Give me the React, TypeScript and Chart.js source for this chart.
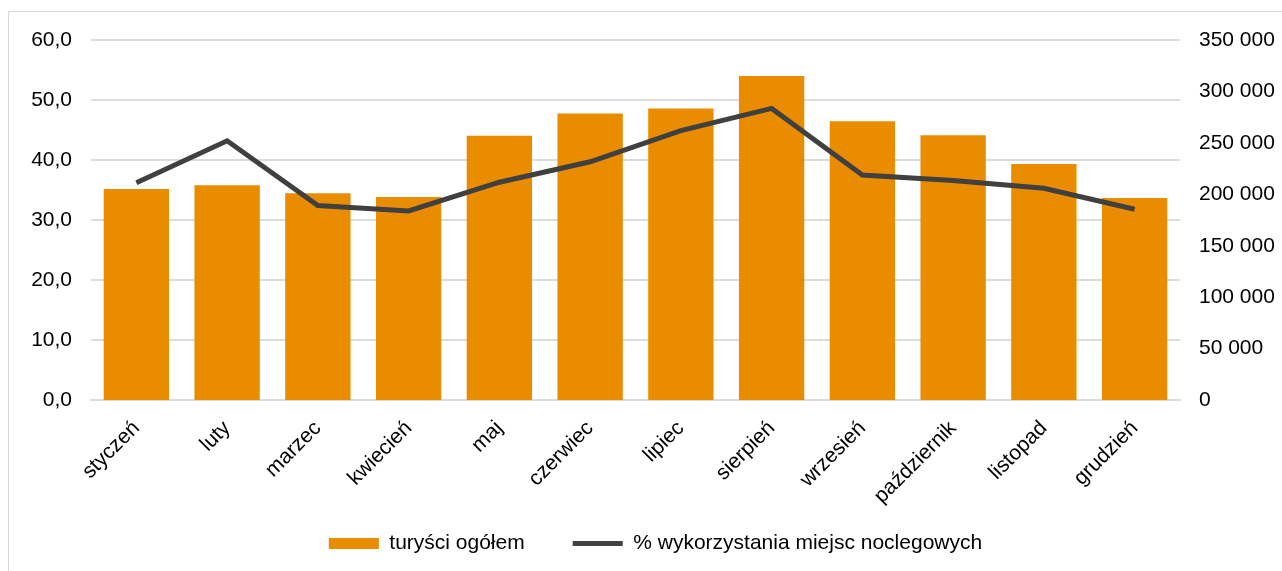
import React, { useEffect, useRef } from "react";
import { Chart, registerables } from "chart.js";

Chart.register(...registerables);

const categories = [
  "styczeń", "luty", "marzec", "kwiecień", "maj", "czerwiec",
  "lipiec", "sierpień", "wrzesień", "październik", "listopad", "grudzień",
];
const tourists = [205200, 208800, 201000, 197400, 256800, 278600, 283500, 315000, 271100, 257500, 229500, 196400];
const occupancy = [36.2, 43.2, 32.4, 31.5, 36.3, 39.7, 44.9, 48.6, 37.5, 36.6, 35.3, 31.8];
const leftTicks = [0, 10, 20, 30, 40, 50, 60];
const rightTicks = [0, 50000, 100000, 150000, 200000, 250000, 300000, 350000];
const seriesNames = ["turyści ogółem", "% wykorzystania miejsc noclegowych"];

const FONT = "'Liberation Sans', Arial, sans-serif";
const ORANGE = "#EA8C00";
const DARK = "#404040";
const GRID = "#dcdcdc";

function fmtLeft(v: number) {
  return v.toFixed(1).replace(".", ",");
}
function fmtRight(v: number) {
  return String(Math.round(v)).replace(/\B(?=(\d{3})+(?!\d))/g, " ");
}

export default function App() {
  const ref = useRef<HTMLCanvasElement | null>(null);
  useEffect(() => {
    if (!ref.current) return;
    const chart = new Chart(ref.current, {
      type: "bar",
      data: {
        labels: categories,
        datasets: [
          {
            type: "bar",
            label: seriesNames[0],
            data: tourists,
            backgroundColor: ORANGE,
            borderWidth: 0,
            yAxisID: "yR",
            order: 2,
            categoryPercentage: 1,
            barPercentage: 0.72,
          },
          {
            type: "line",
            label: seriesNames[1],
            data: occupancy,
            borderColor: DARK,
            backgroundColor: DARK,
            borderWidth: 5,
            pointRadius: 0,
            tension: 0,
            yAxisID: "yL",
            order: 1,
          },
        ] as any,
      },
      options: {
        responsive: false,
        animation: false,
        layout: { padding: { top: 28, left: 20, right: 0, bottom: 7 } },
        plugins: {
          tooltip: { enabled: false },
          legend: {
            position: "bottom",
            labels: {
              font: { family: FONT, size: 21 },
              color: "#000",
              usePointStyle: true,
              pointStyleWidth: 50,
              boxHeight: 11,
              padding: 48,
              generateLabels: (c: any) =>
                c.data.datasets.map((ds: any, i: number) => ({
                  text: ds.label,
                  fillStyle: i === 0 ? ORANGE : DARK,
                  strokeStyle: i === 0 ? ORANGE : DARK,
                  lineWidth: i === 0 ? 0 : 5,
                  pointStyle: i === 0 ? "rect" : "line",
                  datasetIndex: i,
                  hidden: false,
                  fontColor: "#000",
                })),
            },
          },
        },
        scales: {
          x: {
            grid: { display: false, drawTicks: false },
            border: { display: true, color: GRID, width: 2 },
            ticks: {
              font: { family: FONT, size: 21 },
              color: "#000",
              maxRotation: 45,
              minRotation: 45,
              padding: 16,
            },
            afterFit: (s: any) => {
              s.height = 85;
              s._computeLabelArea = () => undefined;
            },
          },
          yL: {
            position: "left",
            min: 0,
            max: 60,
            afterBuildTicks: (s: any) => {
              s.ticks = leftTicks.map((v) => ({ value: v }));
            },
            grid: { color: GRID, lineWidth: 2, drawTicks: false },
            border: { display: false },
            ticks: {
              font: { family: FONT, size: 21 },
              color: "#000",
              padding: 19,
              callback: (v: any) => fmtLeft(Number(v)),
            },
            afterFit: (s: any) => {
              s.width = 62;
              s.paddingTop = 0;
              s.paddingBottom = 0;
            },
          },
          yR: {
            position: "right",
            min: 0,
            max: 350000,
            afterBuildTicks: (s: any) => {
              s.ticks = rightTicks.map((v) => ({ value: v }));
            },
            grid: { display: false, drawTicks: false },
            border: { display: false },
            ticks: {
              font: { family: FONT, size: 21 },
              color: "#000",
              padding: 19,
              callback: (v: any) => fmtRight(Number(v)),
            },
            afterFit: (s: any) => {
              s.width = 102;
              s.paddingTop = 0;
              s.paddingBottom = 0;
            },
          },
        },
      } as any,
    });
    return () => chart.destroy();
  }, []);

  return (
    <div
      style={{
        position: "absolute",
        left: 8,
        top: 11,
        width: 1274,
        height: 560,
        borderTop: "1px solid #d9d9d9",
        borderLeft: "1px solid #d9d9d9",
        boxSizing: "border-box",
        background: "#fff",
      }}
    >
      <canvas ref={ref} width={1273} height={559} style={{ display: "block" }} />
    </div>
  );
}
